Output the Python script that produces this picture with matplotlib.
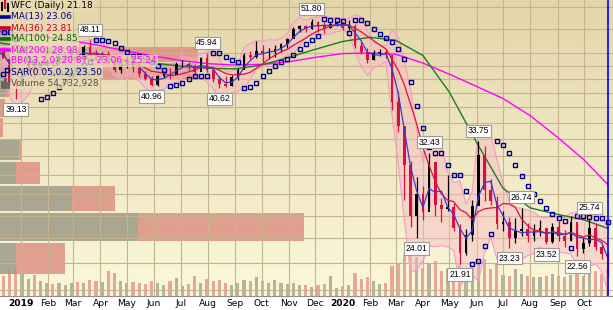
import numpy as np
import pandas as pd
import matplotlib
matplotlib.use('Agg')
import matplotlib.pyplot as plt
import matplotlib.dates as mdates
from matplotlib.lines import Line2D
from matplotlib.patches import Polygon

# ---- data (weekly bars; prices adjusted) ----
week_end = pd.date_range('2018-12-07', '2020-10-30', freq='W-FRI')
high = [49.5, 46.9, 45.3, 42.0, 43.3, 44.6, 44.6, 44.7, 45.0, 45.2,
        45.8, 46.0, 46.6, 46.5, 47.3, 48.11, 46.5, 46.2, 46.3, 45.0,
        44.5, 45.5, 45.3, 44.2, 43.2, 42.4, 42.6, 43.2, 43.6, 44.5,
        44.8, 44.6, 44.3, 45.4, 45.94, 43.6, 42.4, 42.5, 42.6, 43.6,
        46.0, 46.4, 47.9, 47.3, 46.8, 47.3, 47.6, 48.5, 50.4, 50.8,
        50.8, 51.80, 51.5, 51.2, 51.3, 51.5, 51.3, 51.6, 51.0, 47.8,
        46.8, 46.5, 46.6, 46.7, 45.0, 40.2, 35.5, 31.5, 29.8, 28.8,
        32.43, 31.0, 27.6, 30.0, 27.2, 25.2, 24.8, 27.5, 33.75, 33.2,
        29.6, 27.8, 26.4, 25.9, 25.8, 26.74, 25.3, 25.2, 25.6, 24.9,
        25.3, 25.5, 24.7, 26.0, 25.2, 24.0, 25.74, 25.3, 23.6, 22.9]
low = [46.0, 44.8, 41.3, 39.13, 40.9, 42.9, 42.2, 43.4, 43.8, 44.0,
       44.5, 45.1, 45.2, 44.5, 45.0, 45.5, 44.8, 44.8, 44.2, 43.0,
       42.9, 43.7, 43.0, 42.3, 41.8, 40.96, 41.0, 42.1, 42.0, 42.8,
       43.8, 43.4, 42.5, 43.6, 43.0, 41.5, 40.62, 40.8, 40.9, 41.8,
       43.5, 45.0, 45.2, 44.6, 45.0, 45.4, 46.2, 46.8, 48.4, 49.6,
       49.5, 50.0, 49.5, 49.4, 50.2, 50.5, 49.9, 49.8, 46.8, 45.9,
       44.4, 44.8, 45.5, 45.2, 37.6, 34.8, 27.5, 25.0, 24.01, 25.6,
       26.8, 26.0, 25.4, 26.4, 24.6, 21.91, 22.6, 23.8, 27.0, 27.4,
       27.0, 24.8, 24.6, 23.23, 23.6, 24.2, 23.7, 23.8, 24.2, 23.52,
       23.6, 23.8, 23.3, 23.8, 22.56, 22.8, 23.4, 23.0, 22.3, 20.9]
close = [46.3, 45.0, 41.6, 41.4, 43.0, 44.3, 43.7, 44.2, 44.7, 44.6,
         45.5, 45.6, 46.2, 44.8, 47.0, 45.8, 45.2, 45.9, 44.5, 43.4,
         44.0, 45.1, 43.6, 42.8, 42.0, 41.1, 42.4, 42.8, 42.6, 44.2,
         44.3, 43.9, 43.0, 45.2, 43.3, 42.0, 41.3, 41.0, 42.3, 43.4,
         45.6, 45.3, 46.3, 46.0, 46.2, 46.6, 47.4, 48.3, 50.0, 50.5,
         50.0, 51.2, 50.6, 50.3, 51.0, 51.2, 50.3, 50.6, 47.2, 46.2,
         44.9, 46.0, 46.1, 45.6, 38.7, 35.6, 31.0, 26.0, 28.0, 26.3,
         31.4, 27.0, 26.6, 26.8, 24.9, 22.8, 24.3, 26.9, 32.2, 28.4,
         27.4, 25.2, 25.4, 24.0, 24.6, 24.8, 24.2, 24.6, 24.9, 23.7,
         25.0, 24.2, 23.8, 25.4, 23.1, 23.6, 24.9, 23.3, 22.7, 21.18]
volume = [35, 30, 42, 40, 33, 25, 32, 22, 20, 18,
          19, 16, 19, 21, 20, 24, 22, 21, 38, 35,
          23, 20, 21, 19, 18, 22, 20, 17, 22, 27,
          15, 18, 30, 19, 25, 22, 24, 20, 16, 20,
          24, 22, 28, 22, 20, 24, 19, 18, 20, 17,
          16, 14, 17, 18, 30, 12, 15, 17, 35, 26,
          28, 22, 18, 20, 45, 48, 62, 66, 58, 42,
          48, 52, 38, 40, 36, 50, 38, 42, 52, 55,
          40, 48, 32, 30, 40, 33, 30, 28, 29, 30,
          33, 30, 28, 32, 40, 30, 33, 38, 33, 40]  # avg daily, millions

ma_dates = list(pd.date_range('2018-12-01', '2020-10-01', freq='MS')) + [pd.Timestamp('2020-10-28')]
ma100 = [47.8, 47.1, 46.1, 45.3, 44.9, 44.6, 44.4, 43.9, 43.6, 43.5, 44.1, 45.3,
         46.6, 47.9, 48.6, 48.1, 45.6, 40.1, 33.6, 28.6, 26.7, 26.1, 25.6, 24.85]
ma200 = [49.8, 49.2, 48.6, 48.0, 47.2, 46.3, 45.5, 44.8, 44.3, 44.1, 44.2, 44.6,
         45.3, 45.9, 46.0, 45.8, 44.4, 42.7, 40.9, 39.2, 36.9, 34.2, 31.6, 28.98]

# volume by price
vbp_edges = [21.2, 23.8, 26.4, 29.0, 31.6, 34.2, 36.8, 39.4, 42.0, 44.6, 47.2, 49.8, 52.4]
vbp_up = [16, 138, 72, 16, 19, 0, 0, 6, 95, 90, 8, 0]
vbp_down = [49, 166, 43, 24, 3, 3, 5, 4, 100, 108, 4, 0]

swing_dates = ['2018-12-28', '2019-03-22', '2019-05-31', '2019-08-02', '2019-08-16',
               '2019-11-29', '2020-03-27', '2020-04-10', '2020-05-15', '2020-06-05',
               '2020-07-10', '2020-07-24', '2020-08-21', '2020-09-25', '2020-10-09']
swing_vals = [39.13, 48.11, 40.96, 45.94, 40.62, 51.80, 24.01, 32.43, 21.91, 33.75,
              23.23, 26.74, 23.52, 22.56, 25.74]
swing_hi = [False, True, False, True, False, True, False, True, False, True,
            False, True, False, False, True]

legend_lines = ['WFC (Daily) 21.18', 'MA(13) 23.06', 'MA(36) 23.81', 'MA(100) 24.85',
                'MA(200) 28.98', 'BB(13,2.0) 20.87 - 23.06 - 25.24', 'SAR(0.05,0.2) 23.50',
                'Volume 54,732,928']
grid_levels = [20, 22, 24, 26, 28, 30, 32, 34, 36, 38, 40, 42, 44, 46, 50, 54]

# ---- indicators from the weekly bars ----
h = np.array(high); l = np.array(low); c = np.array(close)
x = mdates.date2num(week_end - pd.Timedelta(days=2))
o = np.r_[49.0, c[:-1]]
down = c < np.r_[c[0], c[:-1]]
cs = pd.Series(c)
ma13 = cs.rolling(3, min_periods=1).mean().values
ma36 = cs.rolling(7, min_periods=1).mean().values
hlc = np.c_[h, l, c]
sd = np.array([np.std(hlc[max(0, i-2):i+1]) for i in range(len(c))])
bb_up = ma13 + 2*sd
bb_lo = ma13 - 2*sd

def psar(h, l, step=0.05, amax=0.2):
    sar = np.zeros(len(h)); up = False; af = step; ep = l[0]; sar[0] = h[0]
    for i in range(1, len(h)):
        s = sar[i-1] + af*(ep - sar[i-1])
        if up:
            s = min(s, l[i-1], l[max(i-2, 0)])
            if l[i] < s:
                up = False; s = ep; ep = l[i]; af = step
            elif h[i] > ep:
                ep = h[i]; af = min(af+step, amax)
        else:
            s = max(s, h[i-1], h[max(i-2, 0)])
            if h[i] > s:
                up = True; s = ep; ep = h[i]; af = step
            elif l[i] < ep:
                ep = l[i]; af = min(af+step, amax)
        sar[i] = s
    return sar

sar = psar(h, l)

# ---- figure ----
W, H = 613, 310
fig = plt.figure(figsize=(W/100, H/100), dpi=100, facecolor='white')
ax_vol = fig.add_axes([0, 14/H, 1, 296/H])
ax = ax_vol.twinx()
ax_vbp = ax.twiny()
ax_vol.set_zorder(0); ax_vbp.set_zorder(1); ax.set_zorder(2)
ax.patch.set_visible(False); ax_vbp.patch.set_visible(False)

x0 = mdates.date2num(pd.Timestamp('2018-12-08'))
x1 = x0 + W/0.881
ax_vol.set_xlim(x0, x1)

# background gradient
grad = np.linspace(0, 1, 256)[:, None]
top = np.array([228, 213, 170])/255; bot = np.array([251, 248, 218])/255
img = top[None, None, :]*(1-grad[:, :, None]) + bot[None, None, :]*grad[:, :, None]
ax_vol.imshow(img, aspect='auto', extent=[0, 1, 0, 1], transform=ax_vol.transAxes, zorder=0)

# volume
ax_vol.bar(x, volume, width=3.6, color=np.where(down, '#E39A90', '#A8A796'),
           alpha=0.85, zorder=2)
ax_vol.set_ylim(0, 444)
ax_vol.set_yticks([])

# volume by price
edges = np.array(vbp_edges)
hts = np.diff(edges)*0.92
ax_vbp.barh(edges[:-1], vbp_up, height=hts, align='edge', color='#9C9B88', alpha=0.85, zorder=1)
ax_vbp.barh(edges[:-1], vbp_down, left=vbp_up, height=hts, align='edge',
            color='#DB8A7E', alpha=0.8, zorder=1)
ax_vbp.set_xlim(0, W)
ax_vbp.set_xticks([])

# price axis (log)
ax.set_yscale('log')
ax.set_ylim(19.6, 55.4)
ax.yaxis.set_major_locator(matplotlib.ticker.NullLocator())
ax.yaxis.set_minor_locator(matplotlib.ticker.NullLocator())

gcol = '#C6B48E'
for lv in grid_levels:
    ax.axhline(lv, color=gcol, lw=0.8, zorder=0.5)
months = pd.date_range('2019-01-01', '2020-10-01', freq='MS')
for m in months:
    ax.axvline(mdates.date2num(m), color=gcol, lw=0.8, zorder=0.5)

ax.fill_between(x, bb_lo, bb_up, color='#F7B8C4', alpha=0.45, lw=0, zorder=2)
ax.plot(x, bb_up, color='#F49AC8', lw=0.8, zorder=2)
ax.plot(x, bb_lo, color='#F49AC8', lw=0.8, zorder=2)

md = mdates.date2num(pd.DatetimeIndex(ma_dates))
ax.plot(md, ma200, color='#FF00FF', lw=1.0, zorder=3)
ax.plot(md, ma100, color='#1E7B1E', lw=1.0, zorder=3)

cols = np.where(down, '#D90F3C', 'black')
ax.vlines(x, l, h, colors=cols, lw=0.9, zorder=4)
ax.bar(x, np.abs(c-o), bottom=np.minimum(c, o), width=3.0, color=cols, zorder=4)

ax.plot(x, ma36, color='#E0103C', lw=0.9, zorder=5)
ax.plot(x, ma13, color='#3A3AD0', lw=0.9, zorder=5)
ax.plot(x, sar, ls='none', marker='s', ms=2.7, mfc='none', mec='#00008B', mew=1.0, zorder=6)

ax.axvline(x[-1], color='#0000FF', lw=1.2, zorder=9)

# swing labels
for d, v, hi in zip(swing_dates, swing_vals, swing_hi):
    xd = mdates.date2num(pd.Timestamp(d) - pd.Timedelta(days=2))
    ax.annotate(f'{v:.2f}', (xd, v), xytext=(0, 7.5 if hi else -7.5), textcoords='offset points',
                ha='center', va='center', fontsize=6.2, family='Liberation Sans', zorder=8,
                bbox=dict(boxstyle='square,pad=0.2', fc='white', ec='#A09A90', lw=0.8))

# x axis labels
ax_vol.set_xticks(mdates.date2num(months))
ax_vol.set_xticklabels([str(m.year) if m.month == 1 else m.strftime('%b') for m in months])
ax_vol.tick_params(axis='x', length=0, pad=2.5, labelsize=6.6)
for t, m in zip(ax_vol.get_xticklabels(), months):
    if m.month == 1:
        t.set_fontweight('bold')
for a in (ax_vol, ax, ax_vbp):
    for s in ['top', 'left', 'right']:
        a.spines[s].set_visible(False)
ax_vol.spines['bottom'].set_color('#909090')
ax.spines['bottom'].set_visible(False)
ax_vbp.spines['bottom'].set_visible(False)

# legend
lcols = ['black', '#00008B', '#CC0022', '#007000', '#FF00FF', '#FF00FF', '#000080', '#505050']
fx = lambda px: px/W
fy = lambda py: 1 - py/H
for i, (txt, col) in enumerate(zip(legend_lines, lcols)):
    yy = 6 + i*11
    fig.text(fx(11), fy(yy), txt, color=col, fontsize=6.5, va='center', ha='left', zorder=20,
             bbox=dict(boxstyle='square,pad=0.12', fc='#E9DCB4', ec='none', alpha=0.75))
    if i in (1, 2, 3, 4):
        fig.add_artist(Line2D([fx(1), fx(9)], [fy(yy), fy(yy)], color=col, lw=2.6, zorder=21))
# icons
yy = 6
for cx, a, b, cc in [(2, 2, 9, 'black'), (5, 0, 7, '#D90F3C'), (8, 3, 10, 'black')]:
    fig.add_artist(Line2D([fx(cx), fx(cx)], [fy(yy-5+a), fy(yy-5+b)], color=cc, lw=1.5, zorder=21))
yy = 6 + 5*11
fig.add_artist(Polygon([[fx(1), fy(yy+4)], [fx(4), fy(yy-4)], [fx(9), fy(yy+4)]],
                       closed=True, fc='#F4A8C0', ec='none', transform=fig.transFigure, zorder=21))
yy = 6 + 6*11
for cx, dy in [(3, 2), (7, -2)]:
    fig.add_artist(Line2D([fx(cx)], [fy(yy+dy)], marker='s', ms=2.8, mfc='none', mec='#000080',
                          mew=1, transform=fig.transFigure, zorder=21))
yy = 6 + 7*11
for cx, hh in [(2, 5), (5, 8), (8, 4)]:
    fig.add_artist(Line2D([fx(cx), fx(cx)], [fy(yy+4), fy(yy+4-hh)], color='#606060', lw=2, zorder=21))

fig.savefig('out.png', dpi=100, facecolor='white')
